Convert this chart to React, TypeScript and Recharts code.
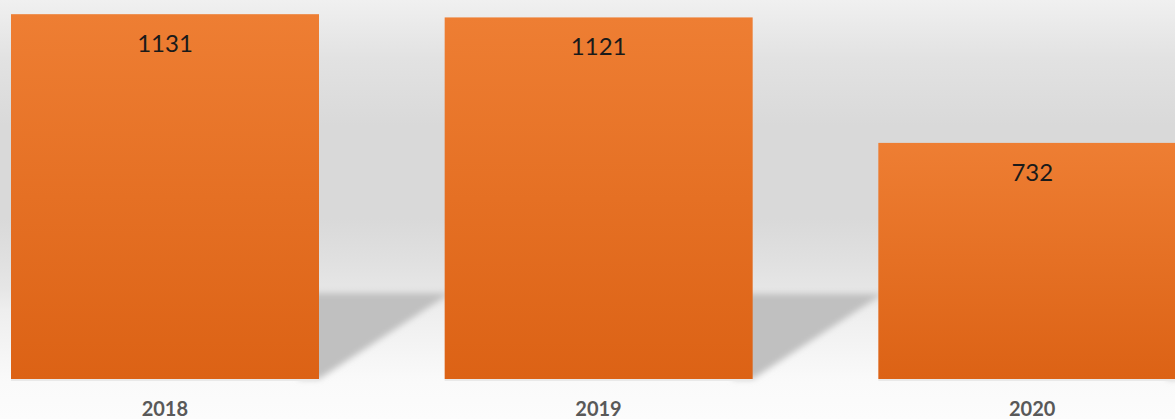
import React from "react";
import { BarChart, Bar, XAxis, YAxis, LabelList } from "recharts";

const years = ["2018", "2019", "2020"];
const counts = [1131, 1121, 732];

const data = years.map((y, i) => ({ year: y, value: counts[i] }));

const BarWithShadow = (props: any) => {
  const { x, y, width, height } = props;
  const bottom = y + height;
  const dy = height * 0.236;
  const dx = height * 0.36;
  const right = x + width;
  return (
    <g>
      <polygon
        points={`${right - 20},${bottom} ${right},${bottom} ${right + dx},${bottom - dy} ${right - 20},${bottom - dy}`}
        fill="#c0c0c0"
        filter="url(#shadowBlur)"
      />
      <rect x={x} y={bottom} width={width} height={2} fill="#e9e9e9" />
      <rect x={x} y={y} width={width} height={height} fill="url(#barGrad)" />
    </g>
  );
};

export default function App() {
  return (
    <div
      style={{
        position: "absolute",
        left: 0,
        top: 0,
        width: 1175,
        height: 419,
        overflow: "hidden",
        background:
          "linear-gradient(to bottom, #f0f0f0 0%, #e2e2e2 14%, #d9d9d9 30%, #d9d9d9 52%, #e0e0e0 62%, #e6e6e6 69%, #eeeeee 74%, #f5f5f5 84%, #fafafa 91%, #fcfcfc 100%)",
      }}
    >
      <div style={{ position: "absolute", left: -52, top: 0 }}>
        <BarChart
          width={1301}
          height={419}
          data={data}
          margin={{ top: 0, right: 0, left: 0, bottom: 0 }}
        >
          <defs>
            <linearGradient id="barGrad" x1="0" y1="0" x2="0" y2="1">
              <stop offset="0%" stopColor="#ee7e33" />
              <stop offset="100%" stopColor="#dc6215" />
            </linearGradient>
            <filter id="shadowBlur" x="-30%" y="-30%" width="160%" height="160%">
              <feGaussianBlur stdDeviation="3" />
            </filter>
          </defs>
          <XAxis
            dataKey="year"
            axisLine={false}
            tickLine={false}
            height={40}
            tickMargin={17}
            tick={{ fontFamily: "Lato", fontWeight: 700, fontSize: 20, fill: "#595959" }}
          />
          <YAxis hide domain={[0, 1175]} />
          <Bar
            dataKey="value"
            barSize={308}
            shape={BarWithShadow}
            isAnimationActive={false}
          >
            <LabelList
              dataKey="value"
              position="insideTop"
              offset={21}
              style={{ fontFamily: "Lato", fontSize: 24, fill: "#1a1a1a" }}
            />
          </Bar>
        </BarChart>
      </div>
    </div>
  );
}
